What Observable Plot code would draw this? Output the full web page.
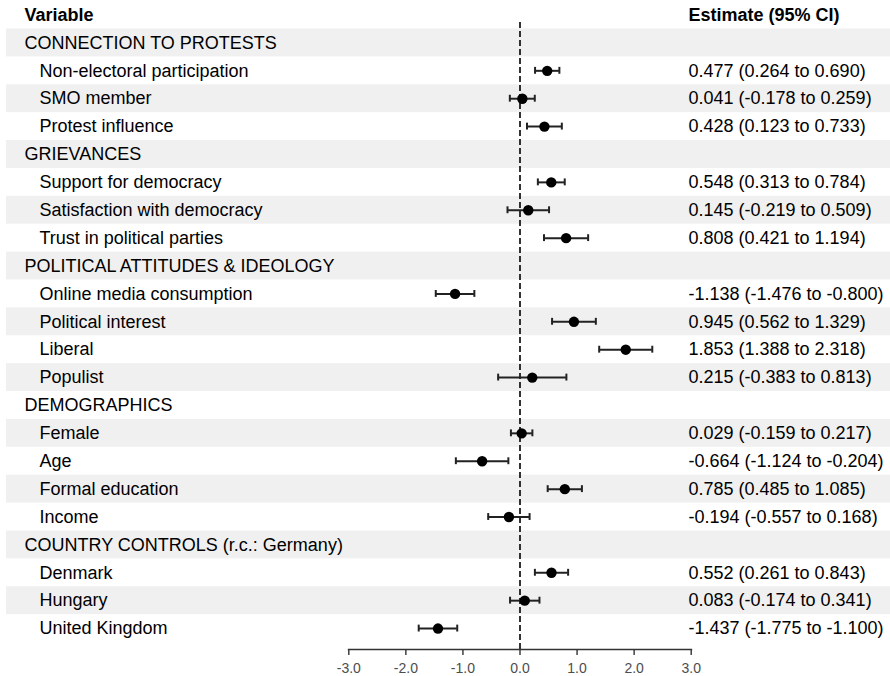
<!DOCTYPE html>
<html>
<head>
<meta charset="utf-8">
<script src="https://cdn.jsdelivr.net/npm/d3@7"></script>
<script src="https://cdn.jsdelivr.net/npm/@observablehq/plot@0.6"></script>
<style>
  html, body { margin: 0; padding: 0; background: #fff; }
  svg { display: block; }
</style>
</head>
<body>
<div id="chart"></div>
<script>
const labels = [
  "CONNECTION TO PROTESTS", "Non-electoral participation", "SMO member", "Protest influence",
  "GRIEVANCES", "Support for democracy", "Satisfaction with democracy", "Trust in political parties",
  "POLITICAL ATTITUDES & IDEOLOGY", "Online media consumption", "Political interest", "Liberal", "Populist",
  "DEMOGRAPHICS", "Female", "Age", "Formal education", "Income",
  "COUNTRY CONTROLS (r.c.: Germany)", "Denmark", "Hungary", "United Kingdom"
];
const isGroup = [true, false, false, false, true, false, false, false, true, false, false, false, false, true, false, false, false, false, true, false, false, false];
const estimate = [null, 0.477, 0.041, 0.428, null, 0.548, 0.145, 0.808, null, -1.138, 0.945, 1.853, 0.215, null, 0.029, -0.664, 0.785, -0.194, null, 0.552, 0.083, -1.437];
const lower    = [null, 0.264, -0.178, 0.123, null, 0.313, -0.219, 0.421, null, -1.476, 0.562, 1.388, -0.383, null, -0.159, -1.124, 0.485, -0.557, null, 0.261, -0.174, -1.775];
const upper    = [null, 0.690, 0.259, 0.733, null, 0.784, 0.509, 1.194, null, -0.800, 1.329, 2.318, 0.813, null, 0.217, -0.204, 1.085, 0.168, null, 0.843, 0.341, -1.100];
const xTicks = [-3, -2, -1, 0, 1, 2, 3];

const rows = labels.map((label, i) => ({
  i, label, group: isGroup[i], est: estimate[i], lo: lower[i], hi: upper[i],
  ci: estimate[i] == null ? "" : `${estimate[i].toFixed(3)} (${lower[i].toFixed(3)} to ${upper[i].toFixed(3)})`
}));
const pts = rows.filter(d => d.est != null);
const font = "Liberation Sans, Arial, Helvetica, sans-serif";

const chart = Plot.plot({
  width: 890,
  height: 676,
  marginLeft: 348,
  marginRight: 199,
  marginTop: 0,
  marginBottom: 27,
  style: { fontFamily: font, background: "#fff" },
  x: { domain: [-3, 3], range: [348.3, 690.7] },
  y: { type: "band", domain: d3.range(labels.length), range: [28.5, 642], padding: 0, round: false, axis: null },
  marks: [
    Plot.cell(rows.filter(d => d.i % 2 === 0), { y: "i", fill: "#f0f0f0", insetLeft: -342, insetRight: -199 }),
    Plot.ruleX([0], { stroke: "#000", strokeWidth: 1.6, strokeDasharray: "6,3", insetTop: 22 }),
    Plot.ruleY(pts, { y: "i", x1: "lo", x2: "hi", stroke: "#222", strokeWidth: 2 }),
    Plot.tickX(pts, { x: "lo", y: "i", stroke: "#222", strokeWidth: 2, insetTop: 10.5, insetBottom: 10.5 }),
    Plot.tickX(pts, { x: "hi", y: "i", stroke: "#222", strokeWidth: 2, insetTop: 10.5, insetBottom: 10.5 }),
    Plot.dot(pts, { x: "est", y: "i", r: 5.2, fill: "#000", stroke: "none" }),
    Plot.text(rows.filter(d => d.group), { y: "i", text: "label", frameAnchor: "left", textAnchor: "start",
      dx: -324, fontSize: 18, fill: "#000" }),
    Plot.text(rows.filter(d => !d.group), { y: "i", text: "label", frameAnchor: "left", textAnchor: "start",
      dx: -309, fontSize: 18, fill: "#000" }),
    Plot.text(pts, { y: "i", text: "ci", frameAnchor: "right", textAnchor: "start",
      dx: -3, fontSize: 18, fill: "#000" }),
    Plot.text(["Variable"], { frameAnchor: "top-left", textAnchor: "start", lineAnchor: "middle",
      dx: -324, dy: 15, fontSize: 18, fontWeight: "bold", fill: "#000" }),
    Plot.text(["Estimate (95% CI)"], { frameAnchor: "top-right", textAnchor: "start", lineAnchor: "middle",
      dx: -3, dy: 15, fontSize: 18, fontWeight: "bold", fill: "#000" }),
    Plot.axisX({ ticks: xTicks, tickFormat: d => d.toFixed(1), tickSize: 6, tickPadding: 8,
      fontSize: 14, fill: "#4d4d4d", stroke: "#333", strokeWidth: 1.4, label: null }),
    Plot.frame({ anchor: "bottom", stroke: "#333", strokeWidth: 1.4 })
  ]
});
document.getElementById("chart").appendChild(chart);
</script>
</body>
</html>
